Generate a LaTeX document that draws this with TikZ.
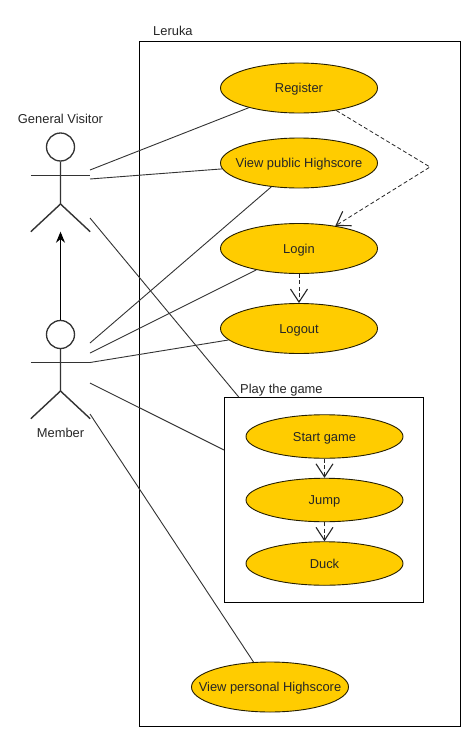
\documentclass[tikz,border=0pt]{standalone}
\usepackage{fontspec}
\setmainfont{Liberation Sans}
\usetikzlibrary{shapes.geometric,arrows.meta}
\definecolor{uc}{HTML}{FFCC00}
\newcommand{\uctext}[1]{\makebox[0pt]{#1}}
\tikzset{
  usecase/.style={ellipse,draw=black!85!uc,fill=uc,line width=0.9pt,minimum width=157pt,minimum height=#1,inner sep=0pt,text height=9pt,text depth=0pt,text=black!85,font=\fontsize{12.9pt}{14pt}\selectfont},
  usecase/.default=50pt,
  sysbox/.style={draw=black,line width=0.9pt,fill=none,inner sep=0pt,rectangle},
  lbl/.style={inner sep=0pt,font=\fontsize{12.9pt}{14pt}\selectfont,text=black!85},
  assoc/.style={draw=black!80,line width=0.9pt},
  dep/.style={draw=black!85,line width=0.8pt,dash pattern=on 4pt off 2.5pt,-{Straight Barb[length=13pt,width=17pt,line width=1.1pt]}},
  gen/.style={draw=black,line width=0.9pt,-{Stealth[length=11pt,width=9pt]}},
  actorline/.style={draw=black!80,line width=1.4pt},
  head/.style={circle,draw=black!80,line width=1.3pt,minimum size=28pt,inner sep=0pt},
  actorbody/.style={rectangle,draw=none,inner sep=0pt,minimum width=59pt,minimum height=56pt}
}
\begin{document}
\begin{tikzpicture}[x=1pt,y=-1pt]
\useasboundingbox (0,0) rectangle (476,742);
\fill[white] (0,0) rectangle (476,742);
% boxes
\node[sysbox,minimum width=320.5pt,minimum height=685pt] (sys) at (299.75,383.5) {};
\node[sysbox,minimum width=198.5pt,minimum height=204.5pt] (play) at (323.75,499.75) {};
\node[lbl,anchor=base west] (sysl) at (153,35) {Leruka};
\node[lbl,anchor=base west] (playl) at (240,393) {Play the game};
% use cases
\node[usecase] (reg) at (299,88) {\uctext{Register}};
\node[usecase] (view) at (299,163) {\uctext{View public Highscore}};
\node[usecase] (login) at (299,248.5) {\uctext{Login}};
\node[usecase] (logout) at (299,328.5) {\uctext{Logout}};
\node[usecase=43.5pt] (start) at (324.5,436.5) {\uctext{Start game}};
\node[usecase=43.5pt] (jump) at (324.5,500) {\uctext{Jump}};
\node[usecase=43.5pt] (duck) at (324.5,563.5) {\uctext{Duck}};
\node[usecase] (pers) at (270,687) {\uctext{View personal Highscore}};
% actors
\node[head] (gvh) at (60.5,147) {};
\node[actorbody] (gvb) at (60.5,203.5) {};
\node[head] (memh) at (60.5,334.5) {};
\node[actorbody] (memb) at (60.5,390.5) {};
\draw[actorline] (gvh.south) -- (60.5,204) -- (gvb.south west);
\draw[actorline] (60.5,204) -- (gvb.south east);
\draw[actorline] (gvb.north west) -- (gvb.north east);
\draw[actorline] (memh.south) -- (60.5,391) -- (memb.south west);
\draw[actorline] (60.5,391) -- (memb.south east);
\draw[actorline] (memb.north west) -- (memb.north east);
\node[lbl] (gvl) at (60.5,118.5) {General Visitor};
\node[lbl] (meml) at (60.5,433) {Member};
% connector ends
\coordinate (g1) at (90,170);
\coordinate (g2) at (90,179);
\coordinate (g3) at (90,218);
\coordinate (m1) at (90,343);
\coordinate (m2) at (90,353);
\coordinate (m3) at (90,362.5);
\coordinate (m4) at (90,383);
\coordinate (m5) at (90,414);
\coordinate (bend) at (430,167);
\draw[assoc] (g1) -- (reg);
\draw[assoc] (g2) -- (view);
\draw[assoc] (g3) -- (play);
\draw[assoc] (m1) -- (view);
\draw[assoc] (m2) -- (login);
\draw[assoc] (m3) -- (logout);
\draw[assoc] (m4) -- (play);
\draw[assoc] (m5) -- (pers);
\draw[gen] (memh.north) -- (gvb.south);
\draw[dep] (reg) -- (bend) -- (login);
\draw[dep] (login) -- (logout);
\draw[dep] (start) -- (jump);
\draw[dep] (jump) -- (duck);
\end{tikzpicture}
\end{document}
